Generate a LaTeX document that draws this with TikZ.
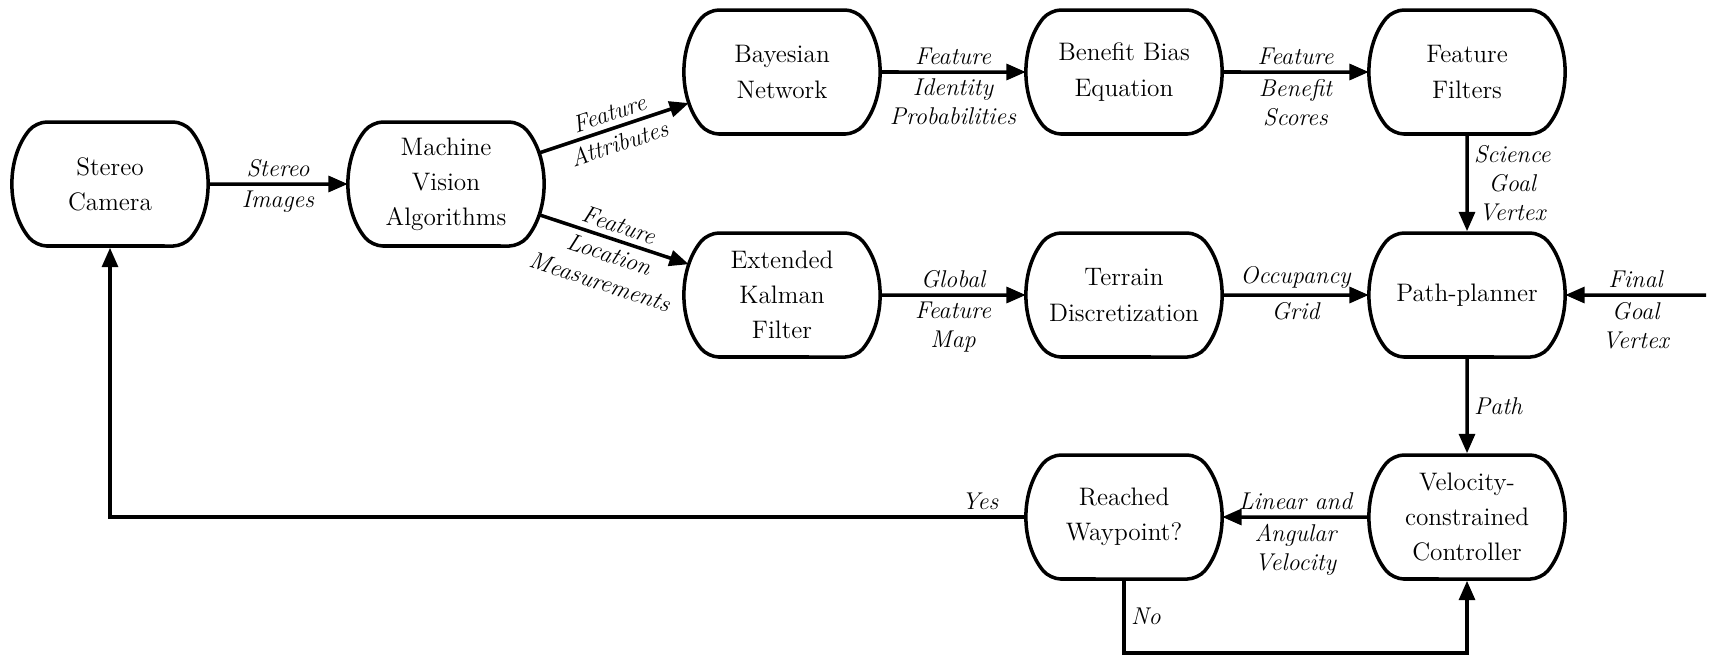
\documentclass[tikz,border=0pt]{standalone}
\usetikzlibrary{arrows.meta,shapes.misc,calc}

\tikzset{
  blk/.style={draw,line width=2pt,rounded rectangle,rounded rectangle arc length=80,
    rounded corners=6pt,minimum width=3.96cm,minimum height=2.48cm,align=center,
    font=\fontsize{14.4}{20}\selectfont},
  arr/.style={line width=2pt,-{Triangle[length=11pt,width=9pt]}},
  lbl/.style={font=\fontsize{13.8}{16.5}\selectfont\itshape,align=center,inner sep=3pt},
}

\begin{document}
\begin{tikzpicture}[x=0.02cm,y=-0.02cm]
\useasboundingbox (0,0) rectangle (1716,657);

\node[blk] (cam)   at (110,184)  {Stereo\\Camera};
\node[blk] (mva)   at (446,184)  {Machine\\Vision\\Algorithms};
\node[blk] (bayes) at (782,72)   {Bayesian\\Network};
\node[blk] (ekf)   at (782,295)  {Extended\\Kalman\\Filter};
\node[blk] (bbe)   at (1124,72)  {Benefit Bias\\Equation};
\node[blk] (terr)  at (1124,295) {Terrain\\Discretization};
\node[blk] (ff)    at (1467,72)  {Feature\\Filters};
\node[blk] (pp)    at (1467,295) {Path-planner};
\node[blk] (rwp)   at (1124,517) {Reached\\Waypoint?};
\node[blk] (vcc)   at (1467,517) {Velocity-\\constrained\\Controller};
\coordinate (goal) at (1706,295);

\draw[arr] (cam) -- (mva)
  node[midway,above,lbl] {Stereo} node[midway,below,lbl] {Images};
\draw[arr] (mva) -- (bayes)
  node[midway,sloped,above,lbl] {Feature} node[midway,sloped,below,lbl] {Attributes};
\draw[arr] (mva) -- (ekf)
  node[midway,sloped,above,lbl] {Feature} node[midway,sloped,below,lbl] {Location\\Measurements};
\draw[arr] (bayes) -- (bbe)
  node[midway,above,lbl] {Feature} node[midway,below,lbl] {Identity\\Probabilities};
\draw[arr] (bbe) -- (ff)
  node[midway,above,lbl] {Feature} node[midway,below,lbl] {Benefit\\Scores};
\draw[arr] (ekf) -- (terr)
  node[midway,above,lbl] {Global} node[midway,below,lbl] {Feature\\Map};
\draw[arr] (terr) -- (pp)
  node[midway,above,lbl] {Occupancy} node[midway,below,lbl] {Grid};
\draw[arr] (ff) -- (pp) node[midway,right,lbl] {Science\\Goal\\Vertex};
\draw[arr] (goal) -- (pp)
  node[midway,above,lbl] {Final} node[midway,below,lbl] {Goal\\Vertex};
\draw[arr] (pp) -- (vcc) node[midway,right,lbl] {Path};
\draw[arr] (vcc) -- (rwp)
  node[midway,above,lbl] {Linear and} node[midway,below,lbl] {Angular\\Velocity};
\draw[arr] (rwp.west) -| (cam.south) node[pos=0.025,above,lbl] {Yes};
\draw[arr] (rwp.south) -- ++(0,72) node[midway,right,lbl] {No} -| (vcc.south);
\end{tikzpicture}
\end{document}
